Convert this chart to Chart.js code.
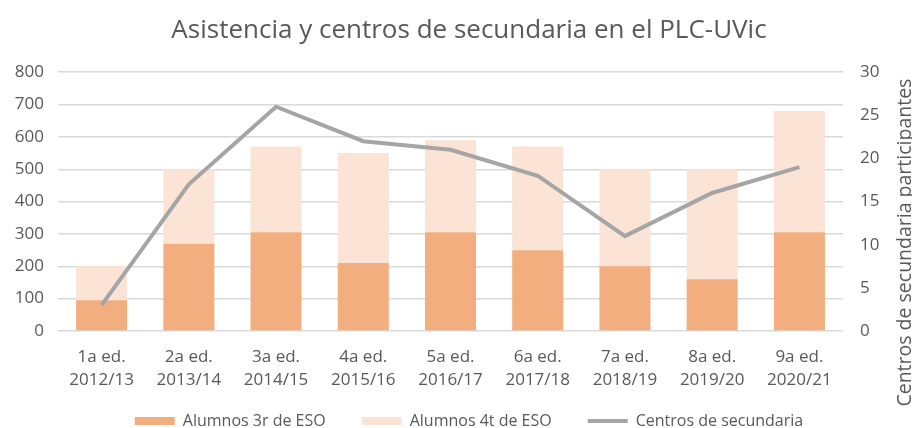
<!DOCTYPE html>
<html>
<head>
<meta charset="utf-8">
<script src="https://cdn.jsdelivr.net/npm/chart.js@4/dist/chart.umd.min.js"></script>
<style>
  html, body { margin: 0; padding: 0; background: #fff; }
  #wrap { width: 912px; height: 428px; }
</style>
</head>
<body>
<div id="wrap"><canvas id="chart"></canvas></div>
<script>
// datos
var ediciones = [
  ["1a ed.", "2012/13"], ["2a ed.", "2013/14"], ["3a ed.", "2014/15"],
  ["4a ed.", "2015/16"], ["5a ed.", "2016/17"], ["6a ed.", "2017/18"],
  ["7a ed.", "2018/19"], ["8a ed.", "2019/20"], ["9a ed.", "2020/21"]
];
var alumnos3r = [95, 270, 305, 210, 305, 250, 200, 160, 305];
var alumnos4t = [105, 230, 265, 340, 285, 320, 300, 340, 375];
var centros = [3, 17, 26, 22, 21, 18, 11, 16, 19];
var ticksIzq = [0, 100, 200, 300, 400, 500, 600, 700, 800];
var ticksDer = [0, 5, 10, 15, 20, 25, 30];

var gris = '#595959';
var fuente = "'Open Sans', 'DejaVu Sans', sans-serif";

// titulo del eje derecho, de abajo hacia arriba como en Excel
var tituloDerecho = {
  id: 'tituloDerecho',
  afterDraw: function(chart) {
    var ctx = chart.ctx;
    var area = chart.chartArea;
    ctx.save();
    ctx.translate(chart.width - 7, (area.top + area.bottom) / 2 + 41);
    ctx.rotate(-Math.PI / 2);
    ctx.font = "19.5px " + fuente;
    ctx.fillStyle = gris;
    ctx.textAlign = 'center';
    ctx.textBaseline = 'middle';
    ctx.fillText('Centros de secundaria participantes', 0, 0);
    ctx.restore();
  }
};

var ctx = document.getElementById('chart').getContext('2d');
var chart = new Chart(ctx, {
  type: 'bar',
  data: {
    labels: ediciones,
    datasets: [{
      label: 'Alumnos 3r de ESO',
      data: alumnos3r,
      backgroundColor: '#F2AE7E',
      yAxisID: 'y',
      stack: 'a',
      order: 1,
      barPercentage: 0.585,
      categoryPercentage: 1
    },
    {
      label: 'Alumnos 4t de ESO',
      data: alumnos4t,
      backgroundColor: '#FBE4D5',
      yAxisID: 'y',
      stack: 'a',
      order: 1,
      barPercentage: 0.585,
      categoryPercentage: 1
    },
    {
      type: 'line',
      label: 'Centros de secundaria',
      data: centros,
      borderColor: '#A5A5A5',
      backgroundColor: '#A5A5A5',
      borderWidth: 4,
      pointRadius: 0,
      tension: 0,
      yAxisID: 'y1',
      order: 0
    }]
  },
  options: {
    responsive: true,
    maintainAspectRatio: false,
    animation: false,
    layout: { padding: { left: 0, right: -26, top: 0, bottom: -11 } },
    plugins: {
      title: {
        display: true,
        text: 'Asistencia y centros de secundaria en el PLC-UVic',
        color: gris,
        font: { family: fuente, size: 26, weight: 'normal' },
        padding: { top: 15, bottom: 26 }
      },
      legend: {
        position: 'bottom',
        labels: {
          usePointStyle: true,
          pointStyleWidth: 40,
          boxHeight: 8,
          padding: 36,
          color: gris,
          font: { family: fuente, size: 16 },
          sort: function(a, b) { return a.datasetIndex - b.datasetIndex; },
          generateLabels: function(chart) {
            var items = Chart.defaults.plugins.legend.labels.generateLabels(chart);
            items.forEach(function(it) {
              if (it.datasetIndex === 2) {
                it.pointStyle = 'line';
                it.lineWidth = 4;
                it.strokeStyle = '#A5A5A5';
              } else {
                it.pointStyle = 'rect';
                it.lineWidth = 0;
              }
            });
            return items;
          }
        }
      },
      tooltip: { enabled: false }
    },
    scales: {
      x: {
        stacked: true,
        afterFit: function(scale) {
          scale.height = 46;
          // las etiquetas de dos lineas pasan por debajo de la caja del eje
          scale._computeLabelArea = function() { return undefined; };
        },
        grid: { display: false, drawTicks: false },
        border: { display: false },
        ticks: {
          color: gris,
          font: { family: fuente, size: 17, lineHeight: 1.35 },
          padding: 15,
          maxRotation: 0
        }
      },
      y: {
        stacked: true,
        position: 'left',
        min: 0,
        max: 800,
        afterBuildTicks: function(scale) {
          scale.ticks = ticksIzq.map(function(v) { return { value: v }; });
        },
        afterFit: function(scale) { scale.width = 58; },
        grid: { color: '#D9D9D9', lineWidth: 1.5, drawTicks: false },
        border: { display: false },
        ticks: {
          color: gris,
          font: { family: fuente, size: 17 },
          padding: 14
        }
      },
      y1: {
        position: 'right',
        min: 0,
        max: 30,
        afterBuildTicks: function(scale) {
          scale.ticks = ticksDer.map(function(v) { return { value: v }; });
        },
        afterFit: function(scale) { scale.width = 95; },
        grid: { display: false, drawTicks: false },
        border: { display: false },
        ticks: {
          color: gris,
          font: { family: fuente, size: 17 },
          padding: 17
        }
      }
    }
  },
  plugins: [tituloDerecho]
});
</script>
</body>
</html>
